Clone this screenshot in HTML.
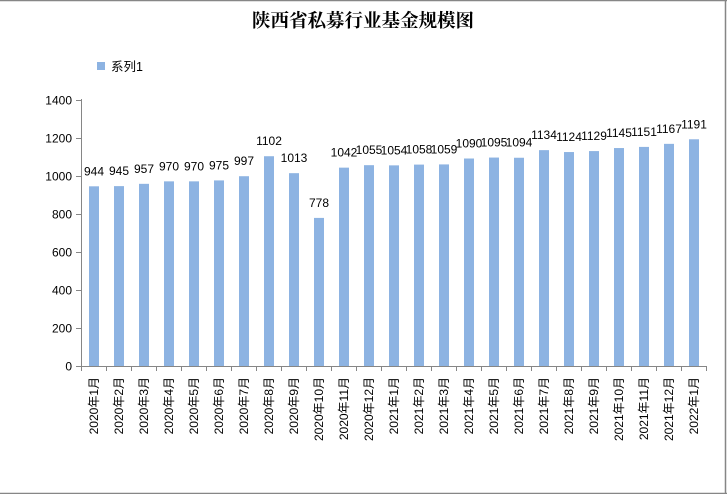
<!DOCTYPE html>
<html><head><meta charset="utf-8"><style>
html,body{margin:0;padding:0;background:#fff;}
svg{display:block;}
text{font-family:"Liberation Sans","Noto Sans CJK SC",sans-serif;fill:#000;}
</style></head><body>
<svg width="727" height="494" viewBox="0 0 727 494" xmlns="http://www.w3.org/2000/svg">
<rect x="0" y="0" width="727" height="494" fill="#fff"/>
<line x1="0" y1="0.5" x2="727" y2="0.5" stroke="#868686" stroke-width="1.5"/>
<line x1="725.5" y1="0" x2="725.5" y2="494" stroke="#868686" stroke-width="1.5"/>
<line x1="0" y1="493.5" x2="727" y2="493.5" stroke="#868686" stroke-width="1.5"/>
<text x="363" y="27" text-anchor="middle" style="font-family:'Liberation Serif','Noto Serif CJK SC',serif;font-weight:bold;font-size:18.5px;">陕西省私募行业基金规模图</text>
<rect x="97" y="62" width="8" height="8" fill="#8db3e2"/>
<text x="111" y="71" style="font-size:12.5px;">系列1</text>
<g stroke="#868686" stroke-width="1" fill="none">
<line x1="81.5" y1="99" x2="81.5" y2="366"/>
<line x1="81" y1="366.5" x2="706" y2="366.5"/>
</g>
<g id="yt" stroke="#868686" stroke-width="1"></g>
<g id="yl" font-size="12" text-anchor="end"></g>
<g id="bars" fill="#8db3e2"></g>
<g id="xt" stroke="#868686" stroke-width="1"></g>
<g id="dl" font-size="12" text-anchor="middle"></g>
<g id="xl" font-size="12" text-anchor="end"></g>
</svg>
<script>
(function(){
var ns="http://www.w3.org/2000/svg";
function el(t,a,txt){var e=document.createElementNS(ns,t);for(var k in a)e.setAttribute(k,a[k]);if(txt!==undefined)e.textContent=txt;return e;}
var y0=366,sc=266.5/1400;
var yt=document.getElementById('yt'),yl=document.getElementById('yl');
for(var v=0;v<=1400;v+=200){var y=Math.round(y0-v*sc)+0.5;
yt.appendChild(el('line',{x1:76,y1:y,x2:81,y2:y}));
yl.appendChild(el('text',{x:72,y:y+4},String(v)));}
var data=[944,945,957,970,970,975,997,1102,1013,778,1042,1055,1054,1058,1059,1090,1095,1094,1134,1124,1129,1145,1151,1167,1191];
var labs=[];
for(var m=1;m<=12;m++)labs.push('2020年'+m+'月');
for(var m=1;m<=12;m++)labs.push('2021年'+m+'月');
labs.push('2022年1月');
var b=document.getElementById('bars'),xt=document.getElementById('xt'),dl=document.getElementById('dl'),xl=document.getElementById('xl');
for(var i=0;i<=25;i++){var x=81+25*i+0.5;xt.appendChild(el('line',{x1:x,y1:366,x2:x,y2:371}));}
for(var i=0;i<data.length;i++){
var cx=81+25*i+13;var top=y0-data[i]*sc;
b.appendChild(el('rect',{x:cx-5,y:top,width:10,height:y0-top}));
dl.appendChild(el('text',{x:cx,y:top-11},String(data[i])));
var t=el('text',{x:0,y:0,transform:'translate('+(cx+4)+',377) rotate(-90)'},labs[i]);
xl.appendChild(t);}
})();
</script>
</body></html>
